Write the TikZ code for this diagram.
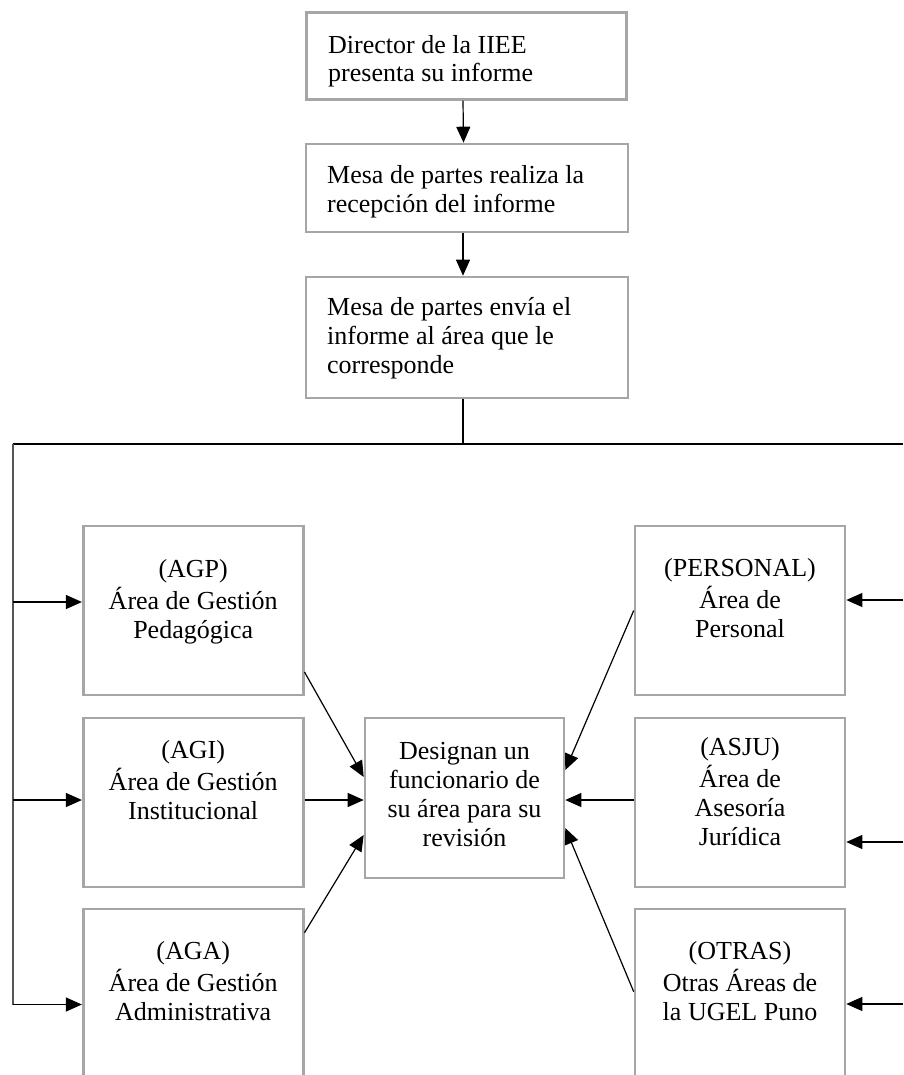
\documentclass[tikz,border=0pt]{standalone}
\usepackage{fontspec}
\setmainfont{Liberation Serif}
\usetikzlibrary{arrows.meta}
\definecolor{boxgray}{RGB}{166,166,166}
\definecolor{linegray}{RGB}{85,85,85}
\begin{document}
\begin{tikzpicture}[x=1pt,y=-1pt,
  box/.style={draw=boxgray,line width=2.6pt,inner sep=0pt,fill=white},
  txt/.style={inner sep=0pt,font=\fontsize{26}{29}\selectfont},
  toptxt/.style={txt,align=left,anchor=north west},
  lowtxt/.style={txt,align=center,anchor=north},
  conn/.style={line width=1.2pt,black},
  arr/.style={conn,-{Triangle[length=16pt,width=14pt]}}]
\useasboundingbox (0,0) rectangle (903,1075);
\clip (0,0) rectangle (903,1075);
% top boxes
\node[box,minimum width=320pt,minimum height=87pt] (b1) at (466.5,55.8) {};
\node[box,minimum width=322pt,minimum height=88pt] (b2) at (467,188) {};
\node[box,minimum width=322pt,minimum height=121pt] (b3) at (467,337.5) {};
\node[toptxt,font=\fontsize{26}{27.5}\selectfont] (t1) at (328,34.3) {\strut Director de la IIEE\\presenta su informe};
\node[toptxt] (t2) at (327,163) {\strut Mesa de partes realiza la\\recepción del informe};
\node[toptxt] (t3) at (327,294.7) {\strut Mesa de partes envía el\\informe al área que le\\corresponde};
% lower boxes
\node[box,minimum width=220pt,minimum height=169pt] (agp) at (193.2,610.5) {};
\node[box,minimum width=220pt,minimum height=169pt] (agi) at (193.2,802.5) {};
\node[box,minimum width=220pt,minimum height=191pt] (aga) at (193.2,1004.5) {};
\node[box,minimum width=199pt,minimum height=160pt] (cen) at (464.5,798) {};
\node[box,minimum width=210pt,minimum height=169pt] (per) at (740,610.5) {};
\node[box,minimum width=210pt,minimum height=169pt] (asj) at (740,802.5) {};
\node[box,minimum width=210pt,minimum height=191pt] (otr) at (740,1004.5) {};
\node[lowtxt] (tagp) at (193.2,556.7) {\strut (AGP)\\Área de Gestión\\Pedagógica};
\node[lowtxt] (tagi) at (193.2,737.7) {\strut (AGI)\\Área de Gestión\\Institucional};
\node[lowtxt] (taga) at (193.2,938.7) {\strut (AGA)\\Área de Gestión\\Administrativa};
\node[lowtxt] (tcen) at (464.5,738.7) {\strut Designan un\\funcionario de\\su área para su\\revisión};
\node[lowtxt] (tper) at (740,555.7) {\strut (PERSONAL)\\Área de\\Personal};
\node[lowtxt] (tasj) at (740,734.7) {\strut (ASJU)\\Área de\\Asesoría\\Jurídica};
\node[lowtxt] (totr) at (740,938.7) {\strut (OTRAS)\\Otras Áreas de\\la UGEL Puno};
% top connectors
\draw[arr] ([xshift=-3.5pt]b1.south) -- ([xshift=-3.5pt]b2.north);
\draw[arr] ([xshift=-4pt]b2.south) -- ([xshift=-4pt]b3.north);
\coordinate (hub) at (463,444);
\coordinate (lt) at (12.7,444);
\coordinate (rt) at (903,444);
\coordinate (lb) at (12.7,1004.5);
\draw[conn] ([xshift=-4pt]b3.south) -- (hub);
\draw[line width=2pt] (lt) -- (rt);
\draw[draw=linegray,line width=2pt] (lt) -- (lb);
% left feeders
\coordinate (l1) at (12.7,602);
\coordinate (l2) at (12.7,800);
\coordinate (l3) at (12.7,1004.5);
\draw[arr] (l1) -- (l1 -| agp.west);
\draw[arr] (l2) -- (l2 -| agi.west);
\draw[arr] (l3) -- (l3 -| aga.west);
% right feeders
\coordinate (r1) at (903,600);
\coordinate (r2) at (903,842);
\coordinate (r3) at (903,1004);
\draw[arr] (r1) -- (r1 -| per.east);
\draw[arr] (r2) -- (r2 -| asj.east);
\draw[arr] (r3) -- (r3 -| otr.east);
% into center
\draw[arr] ([yshift=-61.5pt]agp.east) -- ([yshift=21pt]cen.west);
\draw[arr] ([yshift=2.5pt]agi.east) -- ([yshift=2.5pt]agi.east -| cen.west);
\draw[arr] ([yshift=-25pt]aga.north east) -- ([yshift=-37pt]cen.west);
\draw[arr] ([yshift=0pt]per.west) -- ([yshift=28pt]cen.east);
\draw[arr] ([yshift=2.5pt]asj.west) -- ([yshift=2.5pt]asj.west -| cen.east);
\draw[arr] ([yshift=-84pt]otr.north west) -- ([yshift=-30pt]cen.east);
\end{tikzpicture}
\end{document}
